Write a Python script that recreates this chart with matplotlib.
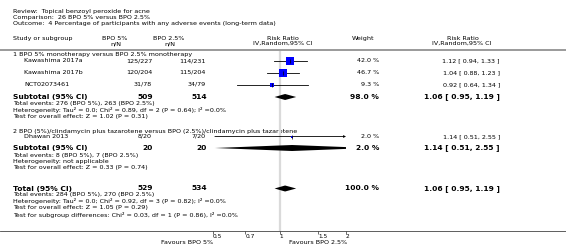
import matplotlib
matplotlib.use("Agg")
import numpy as np
import matplotlib.pyplot as plt
from matplotlib.ticker import NullLocator, FixedLocator, FixedFormatter

# ---- data ----
title_lines = ["Review:  Topical benzoyl peroxide for acne",
               "Comparison:  26 BPO 5% versus BPO 2.5%",
               "Outcome:  4 Percentage of participants with any adverse events (long-term data)"]

studies = ["Kawashima 2017a", "Kawashima 2017b", "NCT02073461", "Dhawan 2013"]
ev_5 = [125, 120, 31, 8]
n_5 = [227, 204, 78, 20]
ev_25 = [114, 115, 34, 7]
n_25 = [231, 204, 79, 20]
weights = [42.0, 46.7, 9.3, 2.0]
rr = [1.12, 1.04, 0.92, 1.14]
rr_lo = [0.94, 0.88, 0.64, 0.51]
rr_hi = [1.33, 1.23, 1.34, 2.55]

groups = ["1 BPO 5% monotherapy versus BPO 2.5% monotherapy",
          "2 BPO (5%)/clindamycin plus tazarotene versus BPO (2.5%)/clindamycin plus tazarotene"]
sub_n5 = [509, 20]
sub_n25 = [514, 20]
sub_w = [98.0, 2.0]
sub_rr = [1.06, 1.14]
sub_lo = [0.95, 0.51]
sub_hi = [1.19, 2.55]
sub_notes = [["Total events: 276 (BPO 5%), 263 (BPO 2.5%)",
              "Heterogeneity: Tau\u00b2 = 0.0; Chi\u00b2 = 0.89, df = 2 (P = 0.64); I\u00b2 =0.0%",
              "Test for overall effect: Z = 1.02 (P = 0.31)"],
             ["Total events: 8 (BPO 5%), 7 (BPO 2.5%)",
              "Heterogeneity: not applicable",
              "Test for overall effect: Z = 0.33 (P = 0.74)"]]

tot_n5, tot_n25, tot_w = 529, 534, 100.0
tot_rr, tot_lo, tot_hi = 1.06, 0.95, 1.19
tot_notes = ["Total events: 284 (BPO 5%), 270 (BPO 2.5%)",
             "Heterogeneity: Tau\u00b2 = 0.0; Chi\u00b2 = 0.92, df = 3 (P = 0.82); I\u00b2 =0.0%",
             "Test for overall effect: Z = 1.05 (P = 0.29)",
             "Test for subgroup differences: Chi\u00b2 = 0.03, df = 1 (P = 0.86), I\u00b2 =0.0%"]

ticks = [0.5, 0.7, 1, 1.5, 2]
tick_labels = ["0.5", "0.7", "1", "1.5", "2"]
fav_left, fav_right = "Favours BPO 5%", "Favours BPO 2.5%"

# ---- layout (pixel rows / columns) ----
W, H = 566, 248
fs, fsb, fst = 4.55, 5.4, 4.2
x_name, x_study = 13, 24
x_c1, x_c2 = 152, 206          # n/N columns (right aligned)
x_h1, x_h2 = 115, 169          # n/N headers (centred)
x_w, x_ci = 379, 500
x_plot0, x_plot1 = 213, 346
y_axis = 231

study_y = [61, 72.5, 84.5, 136.5]
group_y = [54.5, 131]
sub_y = [97, 148]
note_y = [[103.5, 110, 116.5], [155, 162, 168]]
tot_y = 188.5
tot_note_y = [194.5, 201.5, 208, 215]

fig = plt.figure(figsize=(W / 100, H / 100), dpi=100)
ax = fig.add_axes([0, 0, 1, 1])
ax.set_xlim(0, W)
ax.set_ylim(H, 0)
ax.axis("off")

fa = fig.add_axes([x_plot0 / W, (H - y_axis) / H, (x_plot1 - x_plot0) / W, y_axis / H])
fa.set_xscale("log")
fa.set_xlim(0.5, 2)
fa.set_ylim(y_axis, 0)
fa.patch.set_alpha(0)
for s in fa.spines.values():
    s.set_visible(False)
fa.yaxis.set_visible(False)
fa.xaxis.set_major_locator(FixedLocator(ticks))
fa.xaxis.set_major_formatter(FixedFormatter(tick_labels))
fa.xaxis.set_minor_locator(NullLocator())
fa.tick_params(axis="x", length=2, width=0.5, pad=0.5, labelsize=fst, color="#333333")
for lab in fa.get_xticklabels():
    lab.set_ha("left")

def txt(x, y, s, ha="left", bold=False, size=None):
    ax.text(x, y, s, ha=ha, va="center", fontsize=size or (fsb if bold else fs),
            fontweight="bold" if bold else "normal", color="black")

# titles and header
for i, t in enumerate(title_lines):
    txt(x_name, [12, 17.5, 23][i], t)
txt(x_name, 38.5, "Study or subgroup")
txt(x_h1, 38.5, "BPO 5%", ha="center")
txt(x_h1 + 1, 43.5, "n/N", ha="center")
txt(x_h2, 38.5, "BPO 2.5%", ha="center")
txt(x_h2 + 1, 43.5, "n/N", ha="center")
txt(283, 38.5, "Risk Ratio", ha="center")
txt(283, 43.5, "IV,Random,95% CI", ha="center")
txt(363, 38.5, "Weight", ha="center")
txt(463, 38.5, "Risk Ratio", ha="center")
txt(462, 43.5, "IV,Random,95% CI", ha="center")
ax.plot([0, W], [49.5, 49.5], color="#9a9a9a", lw=1.4)
ax.plot([0, W], [y_axis, y_axis], color="#444444", lw=0.6)

# line of no effect
fa.vlines(1, 50.5, y_axis, color="#dadada", lw=1.6, zorder=0)

def diamond(est, lo, hi, y, h=3.0):
    fa.fill([lo, est, hi, est], [y, y - h, y, y + h], color="black", lw=0, zorder=3)

# groups
for g in range(2):
    txt(x_name, group_y[g], groups[g])
    idx = [0, 1, 2] if g == 0 else [3]
    for i in idx:
        y = study_y[i]
        txt(x_study, y, studies[i])
        txt(x_c1, y, f"{ev_5[i]}/{n_5[i]}", ha="right")
        txt(x_c2, y, f"{ev_25[i]}/{n_25[i]}", ha="right")
        txt(x_w, y, f"{weights[i]:.1f} %", ha="right")
        txt(x_ci, y, f"{rr[i]:.2f} [ {rr_lo[i]:.2f}, {rr_hi[i]:.2f} ]", ha="right")
        if rr_hi[i] > 2:
            fa.annotate("", xy=(2, y), xytext=(rr_lo[i], y),
                        arrowprops=dict(arrowstyle="-|>", lw=0.6, color="black",
                                        mutation_scale=3, shrinkA=0, shrinkB=0))
        else:
            fa.plot([rr_lo[i], rr_hi[i]], [y, y], color="black", lw=0.6, zorder=2)
        fa.scatter([rr[i]], [y], s=weights[i] * 0.7, marker="s", color="#0000ff",
                   lw=0, zorder=3)
        fa.scatter([rr[i]], [y], s=6, marker="|", color="black", lw=0.5, zorder=4)
    y = sub_y[g]
    txt(x_name, y, "Subtotal (95% CI)", bold=True)
    txt(x_c1 + 1, y, str(sub_n5[g]), ha="right", bold=True)
    txt(x_c2 + 1, y, str(sub_n25[g]), ha="right", bold=True)
    txt(x_w, y, f"{sub_w[g]:.1f} %", ha="right", bold=True)
    txt(x_ci, y, f"{sub_rr[g]:.2f} [ {sub_lo[g]:.2f}, {sub_hi[g]:.2f} ]", ha="right", bold=True)
    diamond(sub_rr[g], sub_lo[g], sub_hi[g], y)
    for s, yy in zip(sub_notes[g], note_y[g]):
        txt(x_name, yy, s)

# overall
txt(x_name, tot_y, "Total (95% CI)", bold=True)
txt(x_c1 + 1, tot_y, str(tot_n5), ha="right", bold=True)
txt(x_c2 + 1, tot_y, str(tot_n25), ha="right", bold=True)
txt(x_w, tot_y, f"{tot_w:.1f} %", ha="right", bold=True)
txt(x_ci, tot_y, f"{tot_rr:.2f} [ {tot_lo:.2f}, {tot_hi:.2f} ]", ha="right", bold=True)
diamond(tot_rr, tot_lo, tot_hi, tot_y)
for s, yy in zip(tot_notes, tot_note_y):
    txt(x_name, yy, s)

# favours labels
txt(x_plot0, 243, fav_left, ha="right")
txt(x_plot1 + 1, 243, fav_right, ha="right")

fig.savefig("out.png", dpi=100)
